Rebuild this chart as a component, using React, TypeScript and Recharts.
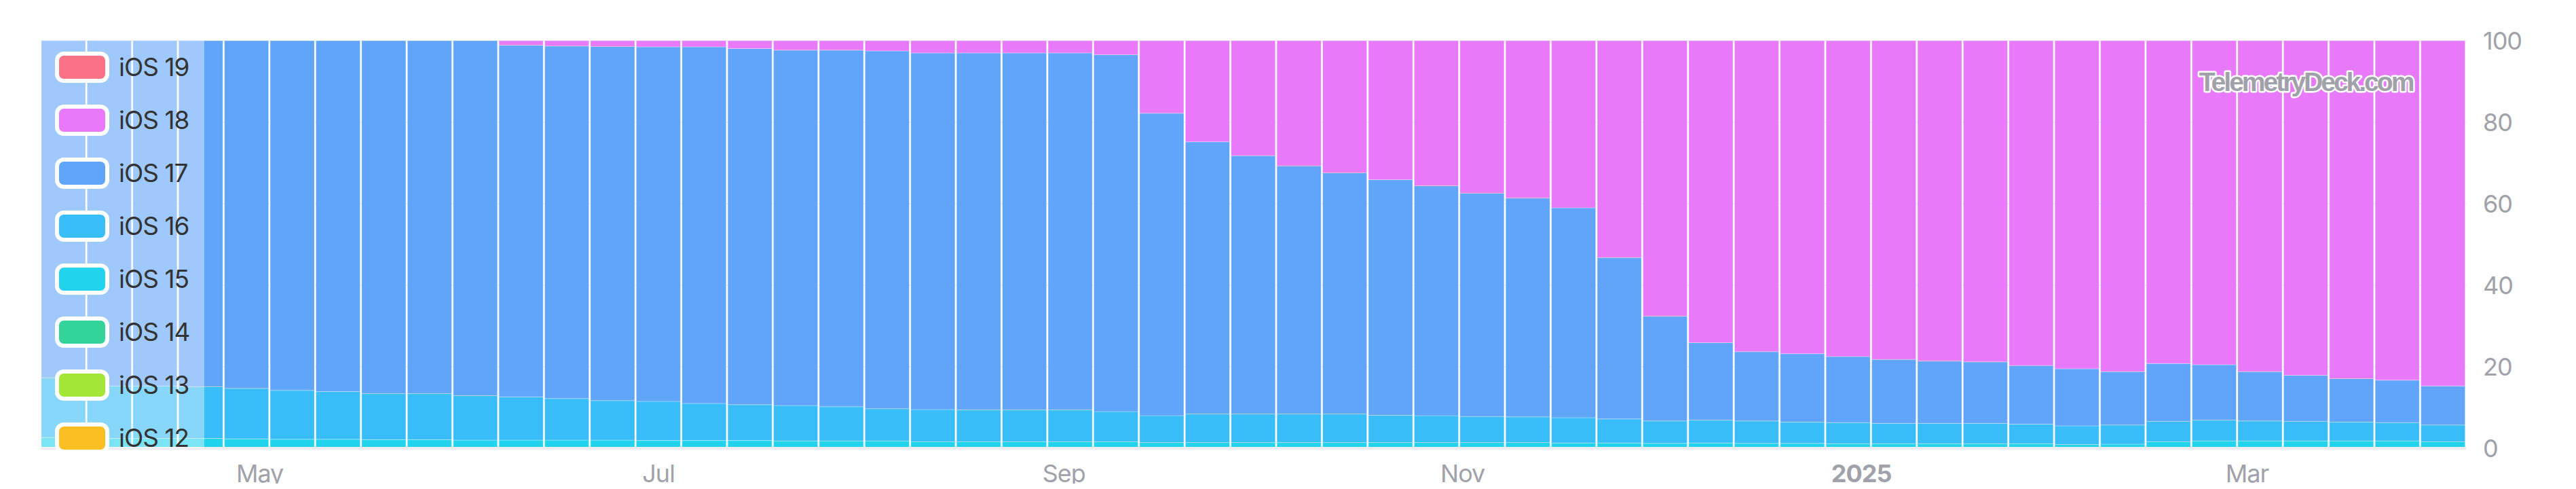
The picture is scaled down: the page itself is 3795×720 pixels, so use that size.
import { BarChart, Bar, XAxis, YAxis, CartesianGrid, Legend } from 'recharts'

// one bar per week, centred on the Monday that starts it
const weeks = [
  '2024-04-01', '2024-04-08', '2024-04-15', '2024-04-22', '2024-04-29',
  '2024-05-06', '2024-05-13', '2024-05-20', '2024-05-27',
  '2024-06-03', '2024-06-10', '2024-06-17', '2024-06-24',
  '2024-07-01', '2024-07-08', '2024-07-15', '2024-07-22', '2024-07-29',
  '2024-08-05', '2024-08-12', '2024-08-19', '2024-08-26',
  '2024-09-02', '2024-09-09', '2024-09-16', '2024-09-23', '2024-09-30',
  '2024-10-07', '2024-10-14', '2024-10-21', '2024-10-28',
  '2024-11-04', '2024-11-11', '2024-11-18', '2024-11-25',
  '2024-12-02', '2024-12-09', '2024-12-16', '2024-12-23', '2024-12-30',
  '2025-01-06', '2025-01-13', '2025-01-20', '2025-01-27',
  '2025-02-03', '2025-02-10', '2025-02-17', '2025-02-24',
  '2025-03-03', '2025-03-10', '2025-03-17', '2025-03-24', '2025-03-31',
]

// share of devices in %, per week
const ios15 = [
  2.6, 2.4, 2.4, 2.4, 2.3, 2.2, 2.2, 2.1, 2.1, 2.0,
  2.0, 2.0, 2.0, 1.9, 1.9, 1.9, 1.8, 1.8, 1.8, 1.6,
  1.6, 1.6, 1.6, 1.6, 1.4, 1.4, 1.4, 1.4, 1.4, 1.4,
  1.4, 1.4, 1.4, 1.3, 1.3, 1.2, 1.3, 1.2, 1.2, 1.1,
  1.1, 1.1, 1.1, 1.1, 0.9, 1.0, 1.6, 1.8, 1.8, 1.8,
  1.8, 1.8, 1.6,
]
const ios16 = [
  14.7, 12.9, 12.9, 12.7, 12.4, 12.0, 11.7, 11.3, 11.3, 10.9,
  10.6, 10.2, 9.7, 9.6, 9.1, 8.8, 8.7, 8.4, 7.9, 7.9,
  7.8, 7.8, 7.8, 7.4, 6.6, 7.0, 7.0, 7.0, 7.0, 6.7,
  6.6, 6.4, 6.3, 6.2, 5.9, 5.5, 5.6, 5.5, 5.2, 5.2,
  5.0, 5.0, 5.0, 4.8, 4.6, 4.7, 5.0, 5.1, 4.9, 4.8,
  4.6, 4.5, 4.1,
]
const ios17 = [
  82.7, 84.7, 84.7, 84.9, 85.3, 85.8, 86.1, 86.6, 86.6, 87.1,
  86.3, 86.5, 86.9, 87.0, 87.5, 87.4, 87.2, 87.5, 87.8, 87.5,
  87.6, 87.6, 87.6, 87.6, 74.2, 66.8, 63.4, 60.9, 59.2, 57.8,
  56.4, 54.8, 53.7, 51.5, 39.6, 25.7, 19.0, 17.0, 16.8, 16.2,
  15.7, 15.3, 15.1, 14.4, 14.0, 13.1, 14.2, 13.6, 12.1, 11.3,
  10.7, 10.4, 9.6,
]
const ios18 = [
  0, 0, 0, 0, 0, 0, 0, 0, 0, 0,
  1.1, 1.3, 1.4, 1.5, 1.5, 1.9, 2.3, 2.3, 2.5, 3.0,
  3.0, 3.0, 3.0, 3.4, 17.8, 24.8, 28.2, 30.7, 32.4, 34.1,
  35.6, 37.4, 38.6, 41.0, 53.2, 67.6, 74.1, 76.3, 76.8, 77.5,
  78.2, 78.6, 78.8, 79.7, 80.5, 81.2, 79.2, 79.5, 81.2, 82.1,
  82.9, 83.3, 84.7,
]

// bottom of the stack first
const versions = ['iOS 12', 'iOS 13', 'iOS 14', 'iOS 15', 'iOS 16', 'iOS 17', 'iOS 18', 'iOS 19']
const colors = ['#fbbf24', '#a3e635', '#34d399', '#22d3ee', '#38bdf8', '#60a5fa', '#e879f9', '#fb7185']

const monthStarts = ['2024-05-01', '2024-07-01', '2024-09-01', '2024-11-01', '2025-01-01', '2025-03-01']
const monthLabels = ['May', 'Jul', 'Sep', 'Nov', '2025', 'Mar']
const yTicks = [0, 20, 40, 60, 80, 100]

const DAY = 24 * 60 * 60 * 1000
const tickValues = monthStarts.map((d) => Date.parse(d))
const timeDomain = [Date.parse(weeks[0]) - 3.5 * DAY, Date.parse(weeks[weeks.length - 1]) + 3.5 * DAY]

const data = weeks.map((week, i) => ({
  week,
  t: Date.parse(week),
  'iOS 15': ios15[i],
  'iOS 16': ios16[i],
  'iOS 17': ios17[i],
  'iOS 18': ios18[i],
}))

const FONT = 'Inter, "Noto Sans", sans-serif'
const AXIS_GREY = '#a1a1aa'

function MonthTick({ x, y, payload }: any) {
  const label = monthLabels[tickValues.indexOf(payload.value)] ?? ''
  const isYear = /^\d{4}$/.test(label)
  return (
    <text
      x={x}
      y={y}
      dy={50}
      textAnchor="middle"
      fill={AXIS_GREY}
      fontSize={36}
      fontFamily={FONT}
      fontWeight={isYear ? 700 : 400}
      letterSpacing={-1}
    >
      {label}
    </text>
  )
}

function LegendPanel() {
  const items = versions.map((v, i) => ({ v, c: colors[i] })).reverse()
  return (
    <div style={{ position: 'relative', width: 241, height: 600, fontFamily: FONT }}>
      {/* translucent sheet over the first bars */}
      <div style={{ position: 'absolute', inset: 0, background: 'rgba(255,255,255,0.4)' }} />
      <div style={{ position: 'relative' }}>
        {items.map(({ v, c }) => (
          <div key={v} style={{ height: 78, display: 'flex', alignItems: 'center' }}>
            <span
              style={{
                marginLeft: 21,
                width: 68,
                height: 34,
                border: '6px solid #fff',
                borderRadius: 13,
                background: c,
                flexShrink: 0,
              }}
            />
            <span style={{ marginLeft: 14, fontSize: 37, color: '#333', letterSpacing: -1, lineHeight: '30px' }}>{v}</span>
          </div>
        ))}
      </div>
    </div>
  )
}

export default function App() {
  return (
    <div style={{ position: 'relative', margin: -8, width: 3795, height: 720, background: '#fff', overflow: 'hidden' }}>
      <BarChart
        width={3795}
        height={720}
        data={data}
        margin={{ top: 60, right: 62, bottom: 10, left: 60 }}
        barCategoryGap={1}
      >
        <CartesianGrid vertical={false} stroke="#e4e4e7" xAxisId="cat" />
        <XAxis xAxisId="cat" dataKey="week" hide height={0} />
        <XAxis
          xAxisId="time"
          dataKey="t"
          type="number"
          domain={timeDomain}
          allowDataOverflow
          ticks={tickValues}
          tick={<MonthTick />}
          tickLine={false}
          tickSize={0}
          tickMargin={0}
          height={50}
          axisLine={{ stroke: '#ededf0', strokeWidth: 4 }}
        />
        <YAxis
          orientation="right"
          domain={[0, 100]}
          allowDataOverflow
          ticks={yTicks}
          width={100}
          axisLine={false}
          tickLine={false}
          tickMargin={19}
          tick={{ fill: AXIS_GREY, fontSize: 36, fontFamily: FONT, letterSpacing: -1 }}
        />
        {versions.map((v, i) => (
          <Bar
            key={v}
            xAxisId="cat"
            dataKey={v}
            stackId="os"
            fill={colors[i]}
            stroke="rgba(255,255,255,0.3)"
            strokeWidth={1}
            isAnimationActive={false}
          />
        ))}
        <Legend
          layout="vertical"
          align="center"
          verticalAlign="middle"
          content={() => <LegendPanel />}
          wrapperStyle={{ left: 60, top: 60, width: 241, height: 600 }}
        />
      </BarChart>
      <svg
        width={3795}
        height={720}
        style={{ position: 'absolute', left: 0, top: 0, pointerEvents: 'none' }}
      >
        <text
          x={3397}
          y={134}
          textAnchor="middle"
          fontFamily='"Liberation Sans", Arial, sans-serif'
          fontWeight={700}
          fontSize={39}
          letterSpacing={-3}
          fill={AXIS_GREY}
          stroke="#fff"
          strokeWidth={5}
          paintOrder="stroke"
          strokeLinejoin="round"
        >
          TelemetryDeck.com
        </text>
      </svg>
    </div>
  )
}
